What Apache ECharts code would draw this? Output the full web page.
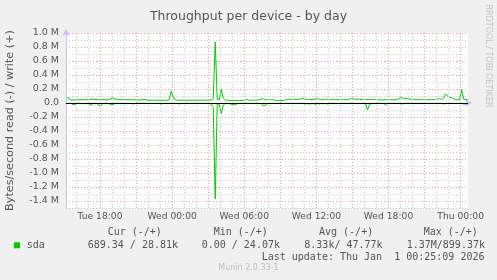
<!DOCTYPE html>
<html><head><meta charset="utf-8">
<script src="https://cdn.jsdelivr.net/npm/echarts@6/dist/echarts.min.js"></script>
<style>html,body{margin:0;padding:0;background:#f0f0f0}#c{width:497px;height:280px}</style>
</head><body><div id="c"></div>
<script>
// Sample times: hours since Tue 00:00, one sample every 10 minutes from Tue 15:15
const startHour = 15.25;
const stepMinutes = 10;
// write (+) throughput in kB/s
const writeK = [
 80,65,40,45,42,47,47,46,47,47,
 45,48,50,58,50,47,47,46,50,47,
 45,50,62,75,55,50,47,48,47,45,
 47,47,47,45,44,45,46,45,48,50,
 40,38,40,40,38,40,40,38,40,38,
 40,45,170,90,45,40,40,38,40,40,
 38,40,40,40,38,40,40,40,40,42,
 40,40,42,60,870,50,45,195,70,45,
 40,38,35,35,35,35,35,35,38,50,
 45,40,40,40,40,42,45,55,60,45,
 47,47,47,47,35,38,35,38,35,45,
 55,52,50,55,50,52,55,60,65,52,
 50,52,50,50,55,62,55,50,45,52,
 55,48,45,55,50,45,45,50,48,47,
 50,55,62,60,50,55,50,50,52,48,
 50,52,50,50,52,48,45,45,42,45,
 50,48,45,47,47,50,65,80,65,60,
 62,55,55,50,47,47,50,55,50,48,
 47,45,50,50,45,55,60,50,70,130,
 100,80,75,60,50,45,50,190,55,45,
 50
];
// read (-) throughput in kB/s (drawn below zero)
const readK = [
 5,5,5,20,20,5,5,5,8,5,
 5,10,35,5,5,5,40,40,5,5,
 5,8,25,25,5,5,5,5,5,5,
 5,5,5,15,5,5,5,5,5,5,
 5,5,5,5,5,5,5,15,5,5,
 5,5,5,5,5,5,15,5,5,5,
 5,5,5,5,5,5,5,5,5,5,
 5,5,20,60,1370,10,20,150,30,5,
 5,5,20,25,25,10,5,5,5,5,
 5,5,5,5,5,5,5,5,40,35,
 10,5,5,5,5,5,5,5,5,5,
 5,5,5,5,5,5,5,5,5,15,
 5,15,10,5,20,5,15,5,10,5,
 15,5,5,5,5,5,5,5,5,5,
 5,5,5,5,5,5,5,5,5,5,
 100,20,5,5,5,5,5,5,5,25,
 5,5,5,5,5,5,5,15,5,5,
 5,5,5,5,5,5,5,5,5,5,
 5,5,5,5,5,5,5,5,15,5,
 5,5,5,5,5,5,5,5,15,15,
 5
];
const xTickHours = [18, 24, 30, 36, 42, 48];
const xTickLabels = ['Tue 18:00', 'Wed 00:00', 'Wed 06:00', 'Wed 12:00', 'Wed 18:00', 'Thu 00:00'];
const legendHeaders = ['Cur (-/+)', 'Min (-/+)', 'Avg (-/+)', 'Max (-/+)'];
const legendValues = ['689.34 / 28.81k', '0.00 / 24.07k', '8.33k/ 47.77k', '1.37M/899.37k'];
const seriesName = 'sda';
const lastUpdate = 'Last update: Thu Jan  1 00:25:09 2026';

const timeAt = i => startHour + i * stepMinutes / 60;
const writeData = writeK.map((v, i) => [timeAt(i), v * 1000]);
const readData = readK.map((v, i) => [timeAt(i), -v * 1000]);

const xMin = 15.17, xMax = 48.61;
const hourLines = [];
for (let h = Math.ceil(xMin); h <= xMax; h++) hourLines.push(h);

const GREEN = '#00cc00';
const TXT = '#555555';
const AX = '#c4c4f4';
const MINOR = '#cdcdcd';
const MAJOR = '#f09a9a';
const SANS = '"DejaVu Sans", sans-serif';
const MONO = '"DejaVu Sans Mono", monospace';

const chart = echarts.init(document.getElementById('c'), null, {renderer: 'canvas'});
const headerX = [107.7, 213.7, 319, 423.7];
const valueX = [87.7, 201.7, 304.3, 406.7];
const graphics = [];
legendHeaders.forEach((t, i) => graphics.push({type: 'text', left: headerX[i], top: 227.5, style: {text: t, font: '10px ' + MONO, fill: TXT}}));
legendValues.forEach((t, i) => graphics.push({type: 'text', left: valueX[i], top: 240, style: {text: t, font: '10px ' + MONO, fill: TXT}}));
graphics.push({type: 'rect', shape: {x: 14, y: 242.3, width: 6, height: 6}, style: {fill: GREEN}});
graphics.push({type: 'text', left: 26.7, top: 240, style: {text: seriesName, font: '10px ' + MONO, fill: TXT}});
graphics.push({type: 'text', left: 261.7, top: 252, style: {text: lastUpdate, font: '10px ' + MONO, fill: TXT}});
graphics.push({type: 'text', x: 248.5, y: 268.3, style: {text: 'Munin 2.0.33-1', font: '8px ' + SANS, fill: '#bdbdbd', align: 'center', verticalAlign: 'middle'}});
graphics.push({type: 'text', x: 488.5, y: 56, rotation: -Math.PI / 2, style: {text: 'RRDTOOL / TOBI OETIKER', font: '8px ' + SANS, fill: '#c4c4c4', align: 'center', verticalAlign: 'middle'}});

chart.setOption({
  animation: false,
  backgroundColor: '#f0f0f0',
  title: {text: 'Throughput per device - by day', left: 'center', top: 5,
    textStyle: {fontFamily: SANS, fontSize: 12.5, fontWeight: 'normal', color: TXT}},
  grid: {left: 66, right: 29, top: 33, bottom: 72, show: true, backgroundColor: '#ffffff', borderWidth: 0,
    containLabel: false, outerBoundsMode: 'none'},
  xAxis: {
    type: 'value', min: xMin, max: xMax,
    axisLine: {show: true, lineStyle: {color: AX, width: 1}, symbol: ['none', 'arrow'], symbolSize: [6, 7], symbolOffset: [0, 4]},
    axisTick: {show: false},
    splitLine: {show: false},
    axisLabel: {customValues: xTickHours, formatter: v => xTickLabels[xTickHours.indexOf(v)] || '',
      fontFamily: SANS, fontSize: 9.2, color: TXT, margin: 4, hideOverlap: false}
  },
  yAxis: {
    type: 'value', min: -1500000, max: 1000000, interval: 100000,
    name: 'Bytes/second read (-) / write (+)', nameLocation: 'middle', nameRotate: 90, nameGap: 50,
    nameTextStyle: {fontFamily: SANS, fontSize: 11.2, color: TXT},
    axisLine: {show: true, lineStyle: {color: AX, width: 1}, symbol: ['none', 'arrow'], symbolSize: [6, 7], symbolOffset: [0, 4]},
    axisTick: {show: false},
    splitLine: {show: true, lineStyle: {color: [MINOR, MAJOR], type: [1, 2], width: 1}},
    axisLabel: {
      formatter: v => {
        const k = Math.round(v / 100000);
        if (k % 2 !== 0) return '';
        if (k === 0) return '0.0';
        return (v / 1e6).toFixed(1) + ' M';
      },
      fontFamily: SANS, fontSize: 9.5, color: TXT, margin: 7
    }
  },
  graphic: graphics,
  series: [
    {type: 'line', name: 'grid', data: [], z: 1, silent: true,
      markLine: {silent: true, symbol: ['none', 'none'], label: {show: false}, animation: false,
        data: hourLines.map(h => ({xAxis: h, lineStyle: {color: h % 3 === 0 ? MAJOR : MINOR, type: [1, 2], width: 1}}))}},
    {type: 'line', name: 'read', data: readData, symbol: 'none', z: 3, lineStyle: {color: GREEN, width: 1}},
    {type: 'line', name: 'write', data: writeData, symbol: 'none', z: 3, lineStyle: {color: GREEN, width: 1}},
    {type: 'line', name: 'zero', data: [], z: 4, silent: true,
      markLine: {silent: true, symbol: ['none', 'none'], label: {show: false}, animation: false,
        data: [{yAxis: 0, lineStyle: {color: '#000000', type: 'solid', width: 1}}]}}
  ]
});
</script></body></html>
